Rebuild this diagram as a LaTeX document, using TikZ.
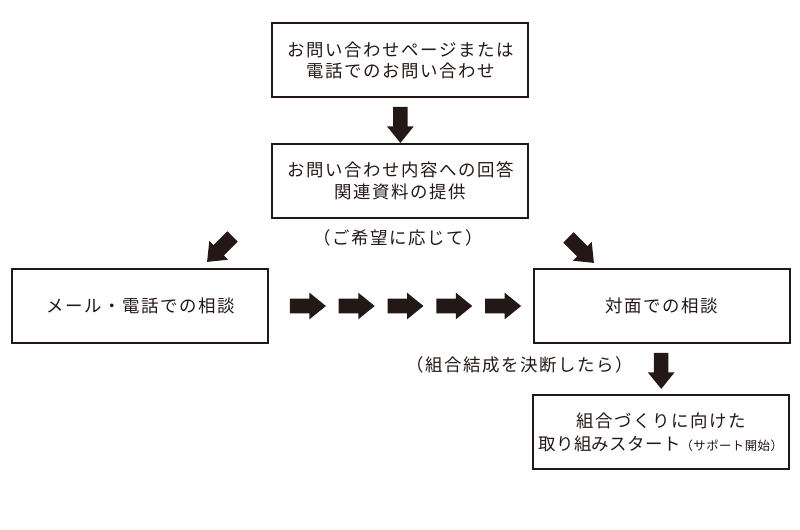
\documentclass[tikz,border=0pt]{standalone}
\usepackage{fontspec}
\setmainfont{Noto Sans CJK JP}[LetterSpace=9]
\usepackage{xcolor}
\usepackage{tikz}
\usetikzlibrary{shapes.arrows, calc}
\definecolor{ink}{HTML}{231815}

\begin{document}
\begin{tikzpicture}[
  font=\fontsize{12.4pt}{15pt}\selectfont,
  box/.style={draw=ink, line width=1.4pt, minimum width=6.4cm, minimum height=1.85cm, align=center, text=ink},
  blk/.style={single arrow, fill=ink, draw=none, inner xsep=0pt, inner ysep=0.175cm, minimum height=0.9cm, minimum width=0.65cm, single arrow head extend=0.15cm, single arrow tip angle=78, text height=0pt, text depth=0pt},
  note/.style={text=ink},
]
\useasboundingbox (0,0) rectangle (20,-13.25);
% boxes
\node[box] (b1) at (10.01,-1.5) {お問い合わせページまたは\\電話でのお問い合わせ};
\node[box] (b2) at (10.01,-4.52) {お問い合わせ内容への回答\\関連資料の提供};
\node[box] (b3) at (3.51,-7.65) {メール・電話での相談};
\node[box] (b4) at (16.54,-7.65) {対面での相談};
\node[box, font=\fontsize{12.4pt}{17pt}\selectfont] (b5) at (16.52,-10.81) {組合づくりに向けた\\{\addfontfeature{LetterSpace=2}取り組みスタート}{\fontsize{8.8pt}{10pt}\selectfont\addfontfeature{LetterSpace=4}（サポート開始）}};
% block arrows
\node[blk, rotate=-90] (v1) at ($(b1.south)!0.5!(b2.north)$) {};
\node[blk, rotate=-135] (dl) at (5.575,-6.15) {};
\node[blk, rotate=-45] (dr) at (14.45,-6.175) {};
\coordinate (hmid) at ($(b3.east)!0.5!(b4.west)$);
\foreach \i [count=\n] in {-2,...,2}{ \node[blk] (h\n) at ($(hmid)+(\i*1.22,0)$) {}; }
\node[blk, rotate=-90, xshift=-0.07cm] (v2) at ($(b4.south)!0.5!(b5.north)$) {};
% notes
\node[note] (kibou) at (9.95,-5.95) {（ご希望に応じて）};
\node[note] (kessei) at (13.0,-9.125) {（組合結成を決断したら）};
\end{tikzpicture}
\end{document}
